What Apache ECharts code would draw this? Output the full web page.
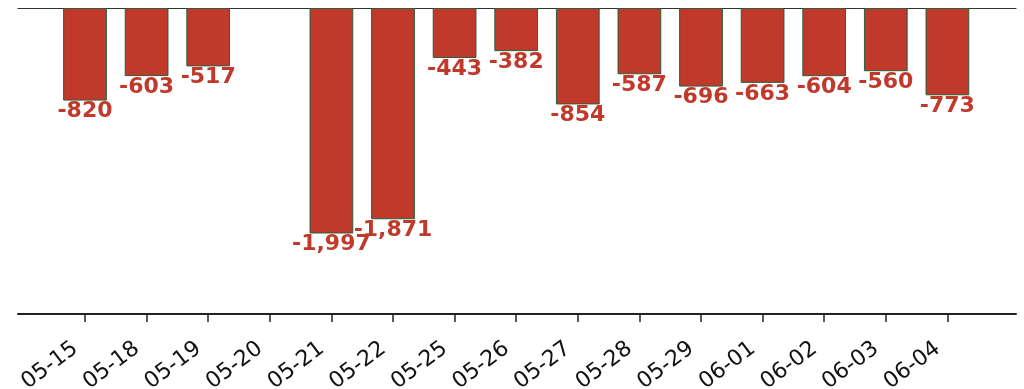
<!DOCTYPE html>
<html>
<head>
<meta charset="utf-8">
<script src="https://cdn.jsdelivr.net/npm/echarts@6/dist/echarts.min.js"></script>
<style>
html,body{margin:0;padding:0;background:#fff;}
#chart{width:1024px;height:389px;}
</style>
</head>
<body>
<div id="chart"></div>
<script>
const categories = ['05-15','05-18','05-19','05-20','05-21','05-22','05-25','05-26','05-27','05-28','05-29','06-01','06-02','06-03','06-04'];
const values = [-820, -603, -517, null, -1997, -1871, -443, -382, -854, -587, -696, -663, -604, -560, -773];

const chart = echarts.init(document.getElementById('chart'));
const fmt = v => v.toLocaleString('en-US');
chart.setOption({
  animation: false,
  grid: [
    {left: 54.2, right: 45.8, top: 8, bottom: 75, containLabel: false, outerBoundsMode: 'none'},
    {left: 18, right: 8, top: 8, bottom: 75, containLabel: false, outerBoundsMode: 'none'}
  ],
  xAxis: [
    {
      type: 'category', gridIndex: 0, data: categories, position: 'bottom',
      axisLine: {show: false, onZero: false},
      axisTick: {show: true, alignWithLabel: true, length: 8, lineStyle: {color: '#222', width: 1.5}},
      axisLabel: {rotate: 37, margin: 25, padding: [0, 12, 0, 0], fontSize: 22, color: '#111', fontFamily: 'DejaVu Sans', interval: 0}
    },
    {
      type: 'value', gridIndex: 1, position: 'bottom', min: 0, max: 1,
      axisLine: {show: true, onZero: false, lineStyle: {color: '#222', width: 2}},
      axisTick: {show: false}, axisLabel: {show: false}, splitLine: {show: false}
    },
    {
      type: 'value', gridIndex: 1, position: 'top', min: 0, max: 1,
      axisLine: {show: true, onZero: false, lineStyle: {color: '#333', width: 1.2}},
      axisTick: {show: false}, axisLabel: {show: false}, splitLine: {show: false}
    }
  ],
  yAxis: [
    {type: 'value', gridIndex: 0, min: -2710, max: 0, show: false},
    {type: 'value', gridIndex: 1, min: 0, max: 1, show: false}
  ],
  series: [{
    type: 'bar', xAxisIndex: 0, yAxisIndex: 0, data: values,
    barWidth: '71%',
    itemStyle: {color: '#c0392b', borderColor: '#2a5e3c', borderWidth: 1},
    label: {
      show: true, position: 'bottom', distance: 0,
      fontFamily: 'DejaVu Sans', fontWeight: 'bold', fontSize: 22, color: '#c0392b',
      formatter: p => fmt(p.value)
    }
  }]
});
</script>
</body>
</html>
